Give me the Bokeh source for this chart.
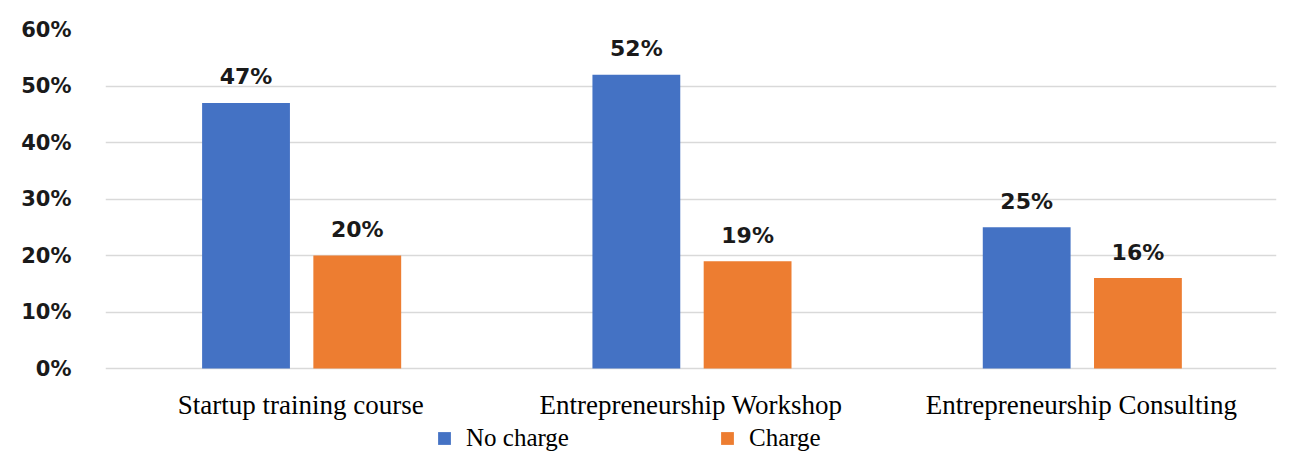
from bokeh.plotting import figure
from bokeh.models import ColumnDataSource, FactorRange, FixedTicker, NumeralTickFormatter, Legend, LegendItem, Range1d
from bokeh.transform import dodge
from bokeh.core.properties import value
from bokeh.embed import file_html
from bokeh.resources import INLINE

categories = ["Startup training course", "Entrepreneurship Workshop", "Entrepreneurship Consulting"]
no_charge = [0.47, 0.52, 0.25]
charge = [0.20, 0.19, 0.16]
no_charge_labels = ["47%", "52%", "25%"]
charge_labels = ["20%", "19%", "16%"]
y_ticks = [0.0, 0.1, 0.2, 0.3, 0.4, 0.5, 0.6]
series_names = ["No charge", "Charge"]

src = ColumnDataSource(dict(cat=categories, nc=no_charge, ch=charge,
                            ncl=no_charge_labels, chl=charge_labels))

# frame extends below the 0% line to hold category labels and legend
PX_PER_UNIT = 339 / 0.6
Y_BOTTOM = -84 / PX_PER_UNIT

p = figure(x_range=FactorRange(factors=categories), y_range=Range1d(Y_BOTTOM, 0.6),
           frame_width=1171, frame_height=423, output_backend="svg", toolbar_location=None,
           x_axis_location=None,
           min_border_left=105, min_border_right=23, min_border_top=29, min_border_bottom=0)
p.outline_line_color = None
p.background_fill_color = "white"

BLUE = "#4472C4"
ORANGE = "#ED7D31"
bw = 0.225
r1 = p.vbar(x=dodge("cat", -0.14, range=p.x_range), top="nc", width=bw, source=src,
            fill_color=BLUE, line_color=None)
r2 = p.vbar(x=dodge("cat", 0.145, range=p.x_range), top="ch", width=bw, source=src,
            fill_color=ORANGE, line_color=None)

lab_font = value("DejaVu Sans")
p.text(x=dodge("cat", -0.14, range=p.x_range), y="nc", text="ncl", source=src,
       text_align="center", text_baseline="alphabetic", y_offset=-26,
       text_font=lab_font, text_font_style="bold", text_font_size="22px", text_color="#1a1a1a")
p.text(x=dodge("cat", 0.145, range=p.x_range), y="ch", text="chl", source=src,
       text_align="center", text_baseline="alphabetic", y_offset=-26,
       text_font=lab_font, text_font_style="bold", text_font_size="22px", text_color="#1a1a1a")

# category labels below the bars
p.text(x="cat", y=0, text="cat", source=src,
       text_align="center", text_baseline="middle", y_offset=36,
       text_font=value("Liberation Serif"), text_font_size="27px", text_color="black")

# y axis
p.yaxis.ticker = FixedTicker(ticks=y_ticks)
p.yaxis.formatter = NumeralTickFormatter(format="0%")
p.yaxis.axis_line_color = None
p.yaxis.major_tick_line_color = None
p.yaxis.minor_tick_line_color = None
p.yaxis.major_tick_out = 0
p.yaxis.major_tick_in = 0
p.yaxis.major_label_standoff = 34
p.yaxis.major_label_text_font = "DejaVu Sans"
p.yaxis.major_label_text_font_style = "bold"
p.yaxis.major_label_text_font_size = "21px"
p.yaxis.major_label_text_color = "#1a1a1a"

p.xgrid.grid_line_color = None
p.ygrid.ticker = FixedTicker(ticks=y_ticks)
p.ygrid.grid_line_color = "#d9d9d9"
p.ygrid.grid_line_width = 1.5

legend = Legend(items=[LegendItem(label=series_names[0], renderers=[r1]),
                       LegendItem(label=series_names[1], renderers=[r2])],
                orientation="horizontal", location=(331, 0))
legend.border_line_color = None
legend.background_fill_alpha = 0
legend.padding = 0
legend.margin = 0
legend.spacing = 150
legend.glyph_width = 16
legend.glyph_height = 16
legend.label_standoff = 14
legend.label_height = 20
legend.label_text_font = "Liberation Serif"
legend.label_text_font_size = "25px"
legend.label_text_color = "black"
p.add_layout(legend, "center")

open("out.html", "w").write(file_html(p, INLINE))
